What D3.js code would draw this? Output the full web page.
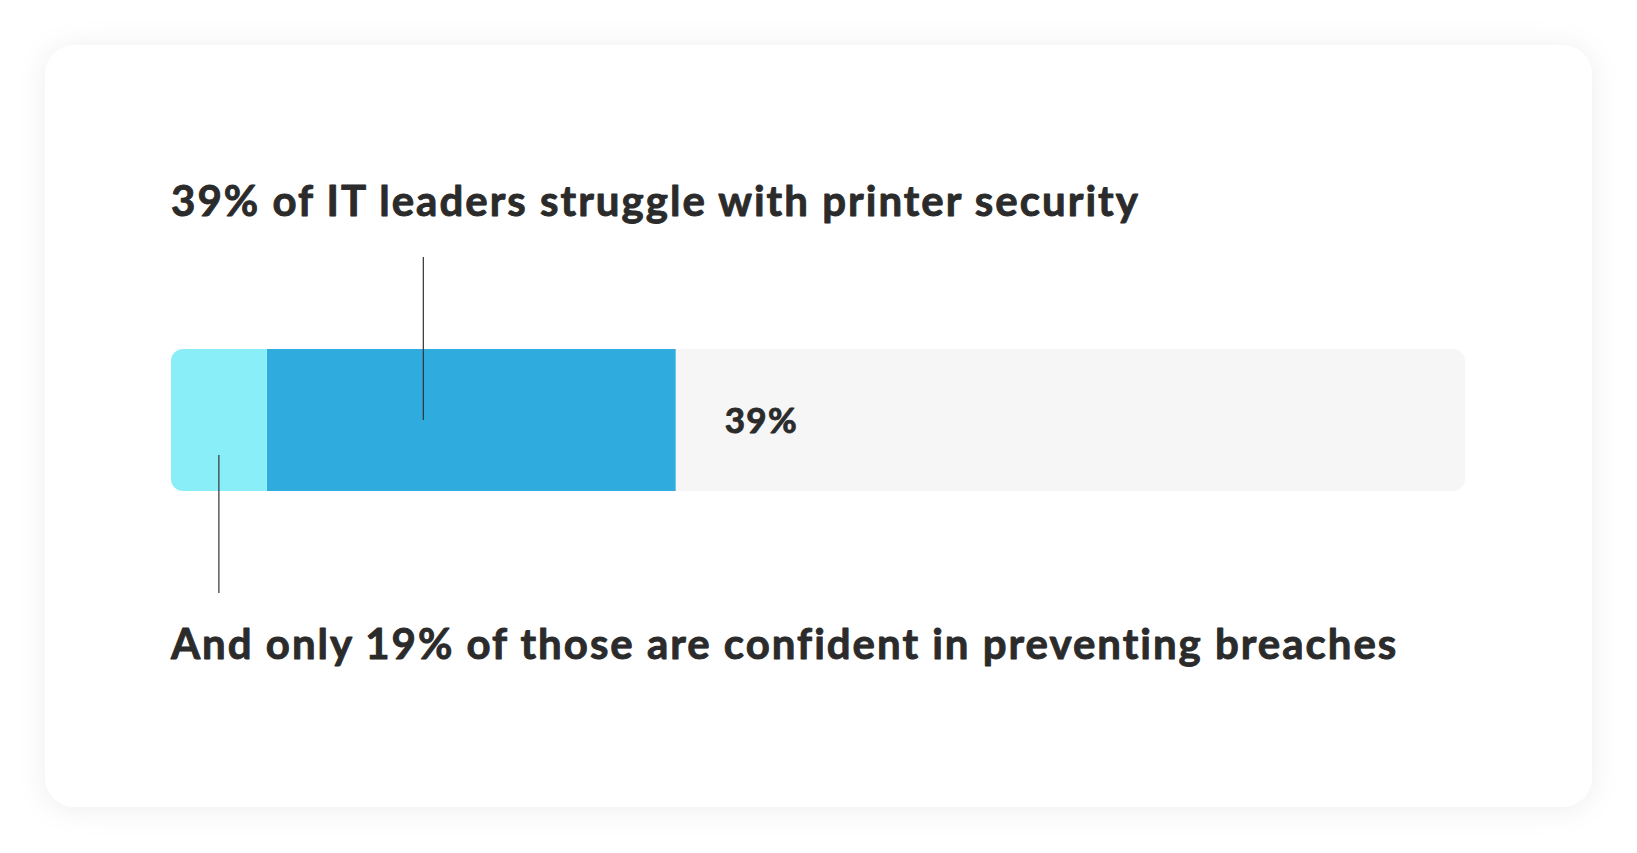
<!DOCTYPE html>
<html>
<head>
<meta charset="utf-8">
<script src="https://cdn.jsdelivr.net/npm/d3@7"></script>
<style>
  html, body { margin: 0; padding: 0; background: #ffffff; }
  svg { display: block; }
  text { font-family: Lato, "Noto Sans", sans-serif; }
</style>
</head>
<body>
<svg id="chart" width="1637" height="853"></svg>
<script>
// ---- data ----
const segmentNames = ["Confident in preventing breaches", "Struggle with printer security", "Remaining IT leaders"];
const segmentEnds = [7.4, 39, 100];          // cumulative percent along the bar
const segmentColors = ["#8aeef9", "#30abdd", "#f6f6f6"];
const barLabel = "39%";
const topNote = "39% of IT leaders struggle with printer security";
const bottomNote = "And only 19% of those are confident in preventing breaches";

// ---- layout ----
const W = 1637, H = 853;
const card = { x: 45, y: 45, w: 1547, h: 762, r: 30 };
const bar = { left: 171, right: 1465, top: 349, height: 142, r: 12 };
const ink = "#2b2b2b";

const svg = d3.select("#chart");
const defs = svg.append("defs");

const f = defs.append("filter").attr("id", "shadow")
  .attr("x", "-10%").attr("y", "-10%").attr("width", "120%").attr("height", "120%");
f.append("feDropShadow").attr("dx", 0).attr("dy", 2).attr("stdDeviation", 14)
  .attr("flood-color", "#000").attr("flood-opacity", 0.07);

svg.append("rect")
  .attr("x", card.x).attr("y", card.y).attr("width", card.w).attr("height", card.h)
  .attr("rx", card.r).attr("fill", "#ffffff").attr("filter", "url(#shadow)");

const x = d3.scaleLinear().domain([0, 100]).range([bar.left, bar.right]);

defs.append("clipPath").attr("id", "barClip")
  .append("rect")
  .attr("x", x(0)).attr("y", bar.top)
  .attr("width", x(100) - x(0)).attr("height", bar.height)
  .attr("rx", bar.r);

const segs = segmentEnds.map((e, i) => ({
  name: segmentNames[i],
  start: i === 0 ? 0 : segmentEnds[i - 1],
  end: e,
  color: segmentColors[i]
}));

const g = svg.append("g").attr("clip-path", "url(#barClip)");
g.selectAll("rect")
  .data(segs.slice().reverse())
  .join("rect")
  .attr("x", d => x(d.start))
  .attr("y", bar.top)
  .attr("width", d => x(d.end) - x(d.start))
  .attr("height", bar.height)
  .attr("fill", d => d.color);

function heavy(sel, size, spacing) {
  return sel.attr("font-size", size)
    .attr("font-weight", 700)
    .attr("letter-spacing", spacing)
    .attr("fill", ink)
    .attr("stroke", ink)
    .attr("stroke-width", 0.9)
    .attr("stroke-linejoin", "round")
    .attr("paint-order", "stroke");
}

// bar value label
heavy(svg.append("text")
  .attr("x", x(segmentEnds[1]) + 49)
  .attr("y", 433), 35, 1.4)
  .text(barLabel);

// leader lines
const midBlue = x((0 + segmentEnds[1]) / 2);
const midCyan = x((0 + segmentEnds[0]) / 2);
svg.append("line")
  .attr("x1", midBlue).attr("x2", midBlue)
  .attr("y1", 257).attr("y2", 420)
  .attr("stroke", "#333").attr("stroke-width", 1.2);
svg.append("line")
  .attr("x1", midCyan).attr("x2", midCyan)
  .attr("y1", 455).attr("y2", 593)
  .attr("stroke", "#333").attr("stroke-width", 1.2);

// notes
heavy(svg.append("text").attr("x", 171).attr("y", 216), 42, 2.02)
  .text(topNote);

heavy(svg.append("text").attr("x", 171).attr("y", 659), 42, 1.98)
  .text(bottomNote);
</script>
</body>
</html>
